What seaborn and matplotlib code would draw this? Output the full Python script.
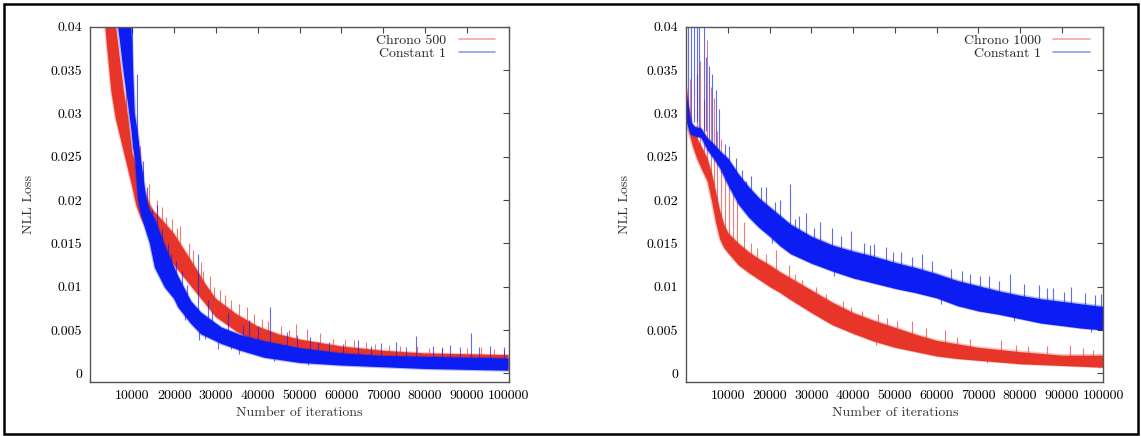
import matplotlib
matplotlib.use("Agg")
import matplotlib.pyplot as plt
from matplotlib.patches import Rectangle
from matplotlib.ticker import FuncFormatter
import seaborn as sns
import pandas as pd
import numpy as np

# ---- data (band = low / high edge of the noisy curve) ----
# left panel: Chrono 500 vs Constant 1
chrono500_x = [2000, 3000, 3550, 4000, 5000, 6000, 7000, 8000, 9000, 10000, 11000, 12000,
               13000, 14000, 15000, 17500, 20000, 22500, 25000, 27500, 30000, 35000, 40000,
               45000, 50000, 60000, 70000, 80000, 90000, 100000]
chrono500_lo = [0.050, 0.043, 0.040, 0.0375, 0.0325, 0.0295, 0.0275, 0.0255, 0.0235, 0.0215,
                0.0193, 0.0180, 0.0170, 0.0162, 0.0155, 0.0140, 0.0125, 0.0110, 0.0095, 0.0080,
                0.0065, 0.0048, 0.0035, 0.0028, 0.0022, 0.0015, 0.0010, 0.0008, 0.0006, 0.0005]
chrono500_hi = [0.060, 0.052, 0.048, 0.046, 0.043, 0.0405, 0.0365, 0.0325, 0.0297, 0.0255,
                0.0238, 0.0225, 0.0210, 0.0197, 0.0188, 0.0175, 0.0161, 0.0142, 0.0123, 0.0103,
                0.0086, 0.0068, 0.0054, 0.0045, 0.0039, 0.0031, 0.0026, 0.0023, 0.0022, 0.0021]

const_l_x = [2000, 5000, 6600, 7000, 8000, 9000, 9800, 10200, 10600, 11400, 12000, 13400,
             14200, 15400, 17800, 20000, 21000, 24100, 26500, 31300, 36000, 41600, 50000,
             60000, 70000, 80000, 90000, 100000]
const_l_lo = [0.060, 0.046, 0.040, 0.0385, 0.0345, 0.031, 0.028, 0.026, 0.025, 0.020, 0.0185,
              0.0162, 0.0150, 0.0122, 0.0099, 0.0086, 0.0076, 0.0057, 0.0045, 0.0034, 0.0026,
              0.0018, 0.0012, 0.0009, 0.0007, 0.0005, 0.0004, 0.0003]
const_l_hi = [0.075, 0.055, 0.050, 0.048, 0.046, 0.043, 0.040, 0.035, 0.030, 0.0275, 0.025,
              0.020, 0.0188, 0.0178, 0.0148, 0.0123, 0.0112, 0.0083, 0.0070, 0.0053, 0.0044,
              0.0037, 0.0029, 0.0023, 0.0020, 0.0019, 0.0018, 0.0017]

# right panel: Chrono 1000 vs Constant 1
chrono1000_x = [0, 500, 1500, 2500, 4000, 5000, 6000, 7000, 8000, 9000, 10000, 12500, 15000,
                17500, 20000, 22500, 25000, 30000, 35000, 40000, 45000, 50000, 55000, 60000,
                65000, 70000, 80000, 90000, 100000]
chrono1000_lo = [0.0300, 0.0280, 0.0262, 0.0248, 0.0232, 0.0222, 0.0200, 0.0175, 0.0155, 0.0145,
                 0.0139, 0.0125, 0.0116, 0.0108, 0.0100, 0.0093, 0.0085, 0.0070, 0.0056, 0.0046,
                 0.0037, 0.0030, 0.0025, 0.0020, 0.0017, 0.0015, 0.0011, 0.0009, 0.0007]
chrono1000_hi = [0.0330, 0.0310, 0.0285, 0.0272, 0.0258, 0.0248, 0.0232, 0.0210, 0.0188, 0.0172,
                 0.0162, 0.0150, 0.0140, 0.0132, 0.0125, 0.0117, 0.0110, 0.0096, 0.0082, 0.0070,
                 0.0061, 0.0053, 0.0045, 0.0038, 0.0034, 0.0030, 0.0025, 0.0021, 0.0021]

const_r_x = [0, 1000, 2000, 3500, 5000, 6500, 8000, 10000, 12500, 15000, 17500, 20000, 22500,
             25000, 30000, 35000, 40000, 45000, 50000, 55000, 60000, 65000, 70000, 75000,
             80000, 85000, 90000, 95000, 100000]
const_r_lo = [0.0290, 0.0276, 0.0274, 0.0272, 0.0258, 0.0248, 0.0237, 0.0217, 0.0195, 0.0180,
              0.0168, 0.0158, 0.0147, 0.0138, 0.0127, 0.0118, 0.0110, 0.0104, 0.0098, 0.0093,
              0.0087, 0.0078, 0.0072, 0.0068, 0.0063, 0.0058, 0.0055, 0.0052, 0.0050]
const_r_hi = [0.0320, 0.0290, 0.0285, 0.0283, 0.0272, 0.0265, 0.0257, 0.0248, 0.0230, 0.0215,
              0.0202, 0.0192, 0.0182, 0.0172, 0.0158, 0.0148, 0.0141, 0.0135, 0.0128, 0.0122,
              0.0115, 0.0107, 0.0101, 0.0095, 0.0090, 0.0086, 0.0083, 0.0080, 0.0077]

# single-iteration spikes: x, bottom, top
spk_c500 = [(12500, 0.020, 0.0235), (14000, 0.019, 0.0218), (16000, 0.017, 0.0200),
            (18000, 0.016, 0.0180), (19500, 0.015, 0.0178), (21500, 0.014, 0.0170),
            (23500, 0.013, 0.0150), (26500, 0.0105, 0.0128), (28500, 0.0090, 0.0112),
            (32200, 0.0075, 0.0090), (33500, 0.0068, 0.0085), (37500, 0.0058, 0.0076),
            (39000, 0.0052, 0.0068), (42500, 0.0048, 0.0060), (49200, 0.0038, 0.0057),
            (51800, 0.0036, 0.0051), (58000, 0.0031, 0.0040), (63000, 0.0029, 0.0038),
            (68000, 0.0026, 0.0034), (74000, 0.0024, 0.0032), (84000, 0.0022, 0.0030),
            (96500, 0.0021, 0.0028), (17000, 0.0165, 0.0192), (24500, 0.012, 0.0142),
            (29500, 0.0080, 0.0100), (35500, 0.0062, 0.0080), (45500, 0.0042, 0.0055),
            (55000, 0.0033, 0.0046), (66000, 0.0027, 0.0036), (78000, 0.0023, 0.0031),
            (90000, 0.0022, 0.0029), (8500, 0.028, 0.0335), (10500, 0.022, 0.0275),
            (11800, 0.021, 0.0262), (20800, 0.0145, 0.0168), (27000, 0.0095, 0.0118),
            (31000, 0.0078, 0.0096), (41000, 0.0050, 0.0063), (47500, 0.0040, 0.0050),
            (61000, 0.0030, 0.0039), (71500, 0.0025, 0.0033), (81000, 0.0023, 0.0029),
            (93500, 0.0021, 0.0030), (99000, 0.0020, 0.0027)]
spk_cl = [(10000, 0.028, 0.041), (11200, 0.024, 0.0345), (12500, 0.021, 0.0245),
          (13600, 0.018, 0.0215), (16000, 0.0150, 0.0194), (17200, 0.013, 0.0168),
          (19200, 0.011, 0.0138), (22000, 0.0095, 0.0118), (25600, 0.0072, 0.0138),
          (28000, 0.0060, 0.0085), (33000, 0.0048, 0.0070), (38000, 0.0042, 0.0062),
          (42900, 0.0035, 0.0077), (47000, 0.0030, 0.0048), (52500, 0.0026, 0.0042),
          (57000, 0.0024, 0.0036), (64000, 0.0021, 0.0038), (69500, 0.0020, 0.0035),
          (73000, 0.0019, 0.0036), (77800, 0.0018, 0.0043), (82000, 0.0018, 0.0031),
          (86000, 0.0017, 0.0033), (91100, 0.0017, 0.0046), (95500, 0.0016, 0.0032),
          (99000, 0.0016, 0.0030), (26000, 0.0038, 0.0050), (30500, 0.0028, 0.0040),
          (35500, 0.0022, 0.0032), (44000, 0.0014, 0.0022), (40000, 0.0036, 0.0055),
          (49500, 0.0028, 0.0044), (60500, 0.0022, 0.0034), (67000, 0.0020, 0.0032),
          (88500, 0.0017, 0.0030), (14800, 0.0165, 0.0190), (18500, 0.0125, 0.0150),
          (20500, 0.0105, 0.0130), (23200, 0.0085, 0.0102), (29000, 0.0052, 0.0072),
          (36500, 0.0040, 0.0056), (54500, 0.0025, 0.0036), (75500, 0.0018, 0.0030),
          (84000, 0.0017, 0.0029), (93000, 0.0016, 0.0030), (22500, 0.0062, 0.0078),
          (27500, 0.0040, 0.0050), (33500, 0.0028, 0.0036), (52000, 0.0010, 0.0016)]
spk_c1000 = [(1000, 0.029, 0.034), (2500, 0.026, 0.0345), (3300, 0.025, 0.036),
             (4300, 0.024, 0.0315), (5000, 0.023, 0.0385), (5800, 0.021, 0.033),
             (6600, 0.019, 0.0318), (7400, 0.017, 0.028), (8300, 0.016, 0.027),
             (9200, 0.0150, 0.025), (10200, 0.0145, 0.023), (11300, 0.0140, 0.0218),
             (12200, 0.0135, 0.0205), (13800, 0.0130, 0.0175), (17000, 0.0120, 0.0145),
             (21500, 0.0110, 0.0142), (24500, 0.0100, 0.0125), (27800, 0.0090, 0.0108),
             (31000, 0.0085, 0.0100), (37500, 0.0070, 0.0083), (42000, 0.0060, 0.0072),
             (46000, 0.0055, 0.0068), (50500, 0.0048, 0.0060), (54000, 0.0042, 0.0060),
             (62000, 0.0034, 0.0050), (68000, 0.0030, 0.0040), (75500, 0.0026, 0.0038),
             (82000, 0.0023, 0.0032), (86500, 0.0022, 0.0031), (92000, 0.0020, 0.0033),
             (97500, 0.0019, 0.0027), (45500, 0.0033, 0.0045), (72000, 0.0012, 0.0020),
             (99000, 0.0006, 0.0012), (15500, 0.0125, 0.0150), (19000, 0.0115, 0.0138),
             (26000, 0.0095, 0.0115), (33500, 0.0078, 0.0092), (39500, 0.0065, 0.0077),
             (48000, 0.0050, 0.0064), (57500, 0.0040, 0.0052), (65000, 0.0032, 0.0042),
             (79000, 0.0024, 0.0033), (95000, 0.0020, 0.0029)]
spk_cr = [(300, 0.030, 0.045), (1200, 0.029, 0.045), (1900, 0.029, 0.045), (2500, 0.029, 0.041),
          (3100, 0.028, 0.045), (4200, 0.028, 0.045), (4700, 0.028, 0.0365), (5500, 0.027, 0.0355),
          (6200, 0.026, 0.0345), (7000, 0.026, 0.0327), (7900, 0.025, 0.0305), (9300, 0.024, 0.0265),
          (10200, 0.023, 0.0262), (11800, 0.022, 0.0248), (13400, 0.021, 0.0235),
          (15500, 0.020, 0.0228), (17800, 0.019, 0.0215), (19000, 0.018, 0.0215),
          (22500, 0.017, 0.0200), (24800, 0.016, 0.0219), (27000, 0.015, 0.0182),
          (28800, 0.015, 0.0185), (32000, 0.014, 0.0175), (35000, 0.013, 0.0168),
          (39400, 0.013, 0.0164), (42500, 0.012, 0.0150), (45000, 0.012, 0.0149),
          (47900, 0.011, 0.0146), (51500, 0.011, 0.0140), (56400, 0.010, 0.0138),
          (59000, 0.010, 0.0130), (63500, 0.009, 0.0120), (68000, 0.009, 0.0115),
          (72500, 0.008, 0.0112), (77600, 0.008, 0.0115), (81000, 0.008, 0.0103),
          (84500, 0.0075, 0.0102), (88000, 0.0072, 0.0098), (92250, 0.007, 0.0100),
          (95500, 0.007, 0.0093), (99500, 0.0065, 0.0092), (20500, 0.0150, 0.0165),
          (35500, 0.0112, 0.0125), (61000, 0.0080, 0.0092), (78500, 0.0060, 0.0068),
          (97000, 0.0048, 0.0056), (14200, 0.020, 0.0222), (21200, 0.0175, 0.0198),
          (26000, 0.0155, 0.0178), (30500, 0.0145, 0.0168), (37000, 0.0135, 0.0158),
          (44000, 0.0125, 0.0148), (49500, 0.0118, 0.0140), (54000, 0.0112, 0.0134),
          (66000, 0.0100, 0.0118), (70500, 0.0095, 0.0112), (75000, 0.0090, 0.0106),
          (86500, 0.0080, 0.0098), (90500, 0.0078, 0.0094), (98000, 0.0072, 0.0090)]

RED = "#e8352a"
BLUE = "#0b1df2"

sns.set_style("white")
plt.rcParams["font.family"] = ["cmr10", "DejaVu Serif"]
plt.rcParams["axes.formatter.use_mathtext"] = True


def draw_series(ax, x, lo, hi, spikes, color, label, z):
    df = pd.DataFrame({"iter": list(x) + list(x), "loss": list(lo) + list(hi)})
    sns.lineplot(data=df, x="iter", y="loss", estimator="mean", errorbar=("pi", 100),
                 color=color, lw=0.6, zorder=z + 0.1,
                 err_kws={"alpha": 1, "lw": 0, "zorder": z}, ax=ax, label=label)
    # soft fringe on both edges of the noisy band
    ax.plot(x, lo, color=color, lw=1.6, alpha=0.3, zorder=z + 0.05)
    ax.plot(x, hi, color=color, lw=1.6, alpha=0.3, zorder=z + 0.05)
    sx, sb, st = zip(*spikes)
    ax.vlines(sx, sb, st, colors=color, lw=0.8, alpha=0.65, zorder=z + 0.2)


fig, axes = plt.subplots(1, 2, figsize=(11.41, 4.36), dpi=100)
h = 0.9388 - 0.1245
axes[0].set_position([0.0793, 0.1245, 0.4457 - 0.0793, h])
axes[1].set_position([0.6015, 0.1245, 0.9671 - 0.6015, h])

draw_series(axes[0], chrono500_x, chrono500_lo, chrono500_hi, spk_c500, RED, "Chrono 500", 1)
draw_series(axes[0], const_l_x, const_l_lo, const_l_hi, spk_cl, BLUE, "Constant 1", 2)
draw_series(axes[1], chrono1000_x, chrono1000_lo, chrono1000_hi, spk_c1000, RED, "Chrono 1000", 1)
draw_series(axes[1], const_r_x, const_r_lo, const_r_hi, spk_cr, BLUE, "Constant 1", 2)

for ax in axes:
    ax.set_xlim(0, 100000)
    ax.set_ylim(-0.00097, 0.04)
    ax.set_xticks(range(10000, 100001, 10000))
    ax.set_yticks([0, 0.005, 0.01, 0.015, 0.02, 0.025, 0.03, 0.035, 0.04])
    ax.yaxis.set_major_formatter(FuncFormatter(lambda v, p: f"{v:g}"))
    ax.xaxis.set_major_formatter(FuncFormatter(lambda v, p: f"{int(v)}"))
    ax.tick_params(direction="in", length=4, width=0.8, color="#444444", labelsize=10,
                   pad=6, top=True, right=True, labelcolor="black")
    for s in ax.spines.values():
        s.set_color("#555555")
        s.set_linewidth(1.0)
        s.set_zorder(5)
    ax.set_xlabel("Number of iterations", fontsize=10, color="#333333")
    ax.set_ylabel("NLL Loss", fontsize=10, color="#333333")
    ax.xaxis.set_label_coords(0.5, -0.072)
    ax.yaxis.set_label_coords(-0.132, 0.5)
    leg = ax.legend(loc="upper right", bbox_to_anchor=(0.985, 1.0), frameon=False,
                    markerfirst=False, fontsize=10, handlelength=2.6, handletextpad=0.9,
                    labelspacing=0.0, borderaxespad=0.15)
    for ln in leg.get_lines():
        ln.set_alpha(0.45)
        ln.set_linewidth(1.2)

fig.patches.append(Rectangle((4.2 / 1141, 2.5 / 436), 1133.3 / 1141, 429.5 / 436,
                             transform=fig.transFigure, fill=False, lw=1.8, ec="black"))

fig.savefig("out.png", dpi=100)
